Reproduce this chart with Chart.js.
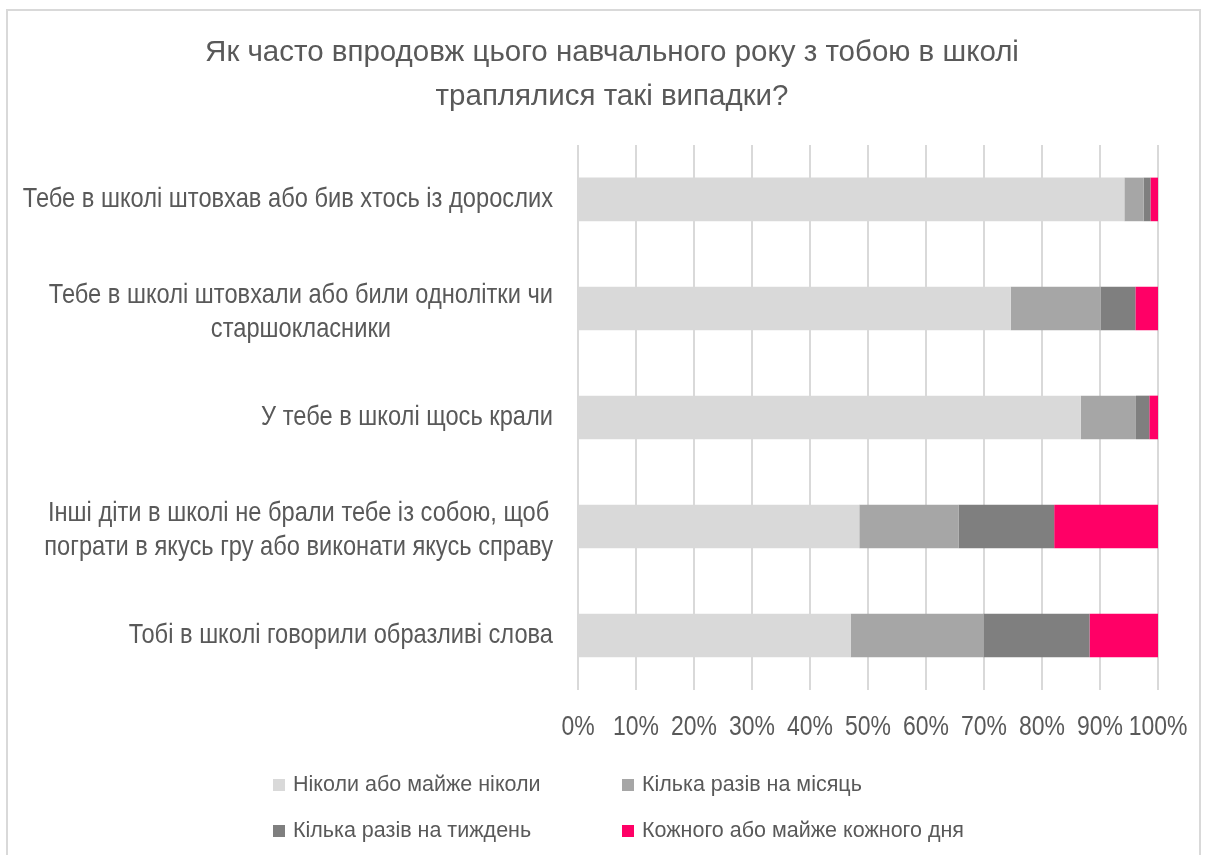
<!DOCTYPE html>
<html lang="uk">
<head>
  <meta charset="UTF-8">
  <title>Як часто впродовж цього навчального року з тобою в школі траплялися такі випадки?</title>
  <script src="https://cdn.jsdelivr.net/npm/chart.js"></script>
  <style>
    body { margin: 0; background: #fff; }
    .wrap { position: relative; width: 1205px; height: 855px; overflow: hidden; }
    .frame {
      position: absolute; left: 6px; top: 9px; width: 1195px; height: 900px;
      border: 2px solid #d9d9d9; box-sizing: border-box;
    }
    canvas { position: absolute; left: 0; top: 0; }
    .legend {
      position: absolute; left: 0; top: 0; width: 1205px; height: 855px;
      font-family: 'Liberation Sans', Arial, sans-serif;
      font-size: 21.5px; color: #595959; pointer-events: none;
    }
    .legend div { position: absolute; white-space: nowrap; line-height: 30px; }
    .legend span {
      display: inline-block; width: 12px; height: 12px; margin-right: 8px;
      vertical-align: 0px;
    }
  </style>
</head>
<body>
  <div class="wrap">
    <div class="frame"></div>
    <canvas id="chart" width="1205" height="855"></canvas>
    <div class="legend" id="legend"></div>
  </div>

  <script>
    const categories = [
      'Тебе в школі штовхав або бив хтось із дорослих',
      ['Тебе в школі штовхали або били однолітки чи', 'старшокласники'],
      'У тебе в школі щось крали',
      ['Інші діти в школі не брали тебе із собою, щоб', 'пограти в якусь гру або виконати якусь справу'],
      'Тобі в школі говорили образливі слова'
    ];
    const seriesNames = [
      'Ніколи або майже ніколи',
      'Кілька разів на місяць',
      'Кілька разів на тиждень',
      'Кожного або майже кожного дня'
    ];
    const never   = [94.2, 74.6, 86.7, 48.5, 47.0];
    const monthly = [3.3, 15.5, 9.5, 17.1, 22.9];
    const weekly  = [1.2, 6.0, 2.3, 16.5, 18.3];
    const daily   = [1.3, 3.9, 1.5, 17.9, 11.8];
    const xTicks = [0, 10, 20, 30, 40, 50, 60, 70, 80, 90, 100];
    const colors = ['#d9d9d9', '#a6a6a6', '#7f7f7f', '#ff0066'];

    const textColor = '#595959';
    const font = "'Liberation Sans', Arial, sans-serif";

    // the axis text in the original is a narrow face, so squeeze it horizontally
    function narrowText(ctx, text, x, y, sx) {
      ctx.save();
      ctx.translate(x, y);
      ctx.scale(sx, 1);
      ctx.fillText(text, 0, 0);
      ctx.restore();
    }

    const axisText = {
      id: 'axisText',
      afterDraw(chart) {
        const ctx = chart.ctx;
        const yScale = chart.scales.y;
        const xScale = chart.scales.x;
        const area = chart.chartArea;
        ctx.save();
        ctx.fillStyle = textColor;
        ctx.textBaseline = 'middle';
        ctx.textAlign = 'center';

        // category labels: block right-aligned, lines centred in the block
        const sy = 0.845;
        const right = area.left - 25;
        ctx.font = '28px ' + font;
        categories.forEach((lab, i) => {
          const lines = Array.isArray(lab) ? lab : [lab];
          const blockW = Math.max(...lines.map(l => ctx.measureText(l).width)) * sy;
          const cx = right - blockW / 2;
          const yc = yScale.getPixelForValue(i) + (lines.length > 1 ? 4 : 0);
          lines.forEach((l, k) => {
            narrowText(ctx, l, cx, yc + (k - (lines.length - 1) / 2) * 34, sy);
          });
        });

        // percent ticks
        xTicks.forEach(v => {
          narrowText(ctx, v + '%', xScale.getPixelForValue(v), area.bottom + 37, 0.82);
        });
        ctx.restore();
      }
    };

    const data = [never, monthly, weekly, daily];
    new Chart(document.getElementById('chart'), {
      type: 'bar',
      data: {
        labels: categories.map(c => Array.isArray(c) ? c.join(' ') : c),
        datasets: seriesNames.map((name, i) => ({
          label: name,
          data: data[i],
          backgroundColor: colors[i],
          borderWidth: 0,
          categoryPercentage: 1,
          barPercentage: 0.4
        }))
      },
      options: {
        indexAxis: 'y',
        responsive: false,
        animation: false,
        layout: { padding: { left: 66, right: 47, top: 0, bottom: 165 } },
        plugins: {
          legend: { display: false },
          tooltip: { enabled: false },
          title: {
            display: true,
            text: ['Як часто впродовж цього навчального року з тобою в школі', 'траплялися такі випадки?'],
            color: textColor,
            font: { family: font, size: 29.5, weight: 'normal', lineHeight: 1.49 },
            padding: { top: 31, bottom: 26 }
          }
        },
        scales: {
          x: {
            stacked: true,
            min: 0,
            max: 100,
            afterBuildTicks: axis => { axis.ticks = xTicks.map(v => ({ value: v })); },
            ticks: { display: false },
            grid: { color: '#d9d9d9', lineWidth: 2, drawTicks: false },
            border: { display: false }
          },
          y: {
            stacked: true,
            ticks: { display: false },
            grid: { display: false },
            border: { display: false },
            afterFit: s => { s.width = 512; }
          }
        }
      },
      plugins: [axisText]
    });

    // legend in two columns
    const legendPos = [[273, 784], [622, 784], [273, 830], [622, 830]];
    const legendEl = document.getElementById('legend');
    seriesNames.forEach((name, i) => {
      const d = document.createElement('div');
      d.style.left = legendPos[i][0] + 'px';
      d.style.top = (legendPos[i][1] - 15) + 'px';
      d.innerHTML = '<span style="background:' + colors[i] + '"></span>' + name;
      legendEl.appendChild(d);
    });
  </script>
</body>
</html>
